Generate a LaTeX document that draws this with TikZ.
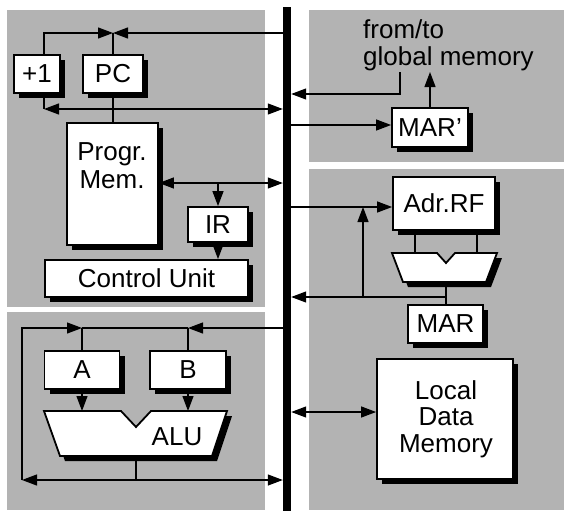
\documentclass[tikz,border=0pt]{standalone}
\usepackage{fontspec}
\setmainfont{Liberation Sans}
\usetikzlibrary{arrows.meta}
\definecolor{panelgray}{RGB}{179,179,179}
\pgfdeclarelayer{bg}
\pgfdeclarelayer{wires}
\pgfsetlayers{bg,wires,main}
\newcommand\mkbox[6]{%
  \node[fill=black,inner sep=0pt,minimum width=#4pt,minimum height=#5pt] at ({#2+5},{#3+5}) {};
  \node[regbox,minimum width=#4pt,minimum height=#5pt] (#1) at (#2,#3) {#6};}
\begin{document}
\begin{tikzpicture}[x=1pt,y=-1pt,
  font=\fontsize{26}{28}\selectfont,
  wire/.style={line width=1.2pt},
  >={Triangle[length=15pt,width=11pt]},
  regbox/.style={draw,line width=1.8pt,fill=white,inner sep=0pt},
  shapeline/.style={draw,line width=1.8pt,fill=white},
  txt/.style={inner sep=0pt}
]
\useasboundingbox (0,0) rectangle (564,511);
\begin{pgfonlayer}{bg}
% panels
\fill[panelgray] (7,10) rectangle (265,307);
\fill[panelgray] (7,312) rectangle (265,510);
\fill[panelgray] (309,10) rectangle (564,162);
\fill[panelgray] (309,169) rectangle (564,510);
% bus
\node[fill=black,inner sep=0pt,minimum width=8pt,minimum height=504pt] (bus) at (287,259) {};
\end{pgfonlayer}
% coordinates
\coordinate (jpc) at (113,33);
\coordinate (j2) at (44,109);
\coordinate (j3) at (218,183);
\coordinate (gm1) at (400,72);
\coordinate (gm2) at (400,94);
\coordinate (gm3) at (430,72);
\coordinate (jq) at (340,125);
\coordinate (ja) at (363,207);
\coordinate (jv) at (363,297);
\coordinate (mi1) at (415,253);
\coordinate (mi2) at (477,253);
\coordinate (mo) at (446,282);
\coordinate (jm) at (446,297);
\coordinate (ja1) at (82,328);
\coordinate (jb1) at (188,328);
\coordinate (alua) at (82,411);
\coordinate (alub) at (188,411);
\coordinate (aluo) at (136,456);
\coordinate (jl1) at (22,480);
\coordinate (jld) at (340,412);
% boxes with shadows
\mkbox{plus1}{37}{74}{46}{38}{+1}
\mkbox{pc}{113}{74}{60}{38}{PC}
\mkbox{pm}{112.5}{184}{91}{122}{}
\node[txt,anchor=base,align=center] (pmtext) at (112,188) {Progr.\\Mem.};
\mkbox{ir}{218}{224.5}{60}{35}{IR}
\mkbox{cu}{146.5}{278.5}{203}{37}{Control Unit}
\node[txt,anchor=base west,align=left] (gmtext) at (363,66) {from/to\\global memory};
\mkbox{marp}{430}{127.5}{76}{39}{MAR’}
\mkbox{adrrf}{444}{203.5}{102}{53}{Adr.RF}
\mkbox{mar}{445.5}{324}{75}{38}{MAR}
\mkbox{ldm}{445}{419}{136}{120}{}
\node[txt,anchor=base,align=center,font=\fontsize{26}{26.5}\selectfont] (ldmtext) at (446,452) {Local\\Data\\Memory};
\mkbox{rega}{82}{370}{75}{38}{A}
\mkbox{regb}{188}{370}{76}{38}{B}
% ALU
\fill[black] (49,416) -- (126,416) -- (141,432) -- (156,416) -- (232,416) -- (217,461) -- (65,461) -- cycle;
\path[shapeline] (44,411) -- (121,411) -- (136,427) -- (151,411) -- (227,411) -- (212,456) -- (60,456) -- cycle;
\node[txt,anchor=base] (alutext) at (177,445) {ALU};
% address mux
\fill[black] (397,258) -- (442,258) -- (451,268) -- (460,258) -- (502,258) -- (491,287) -- (408,287) -- cycle;
\path[shapeline] (392,253) -- (437,253) -- (446,263) -- (455,253) -- (497,253) -- (486,282) -- (403,282) -- cycle;
% wires
\begin{pgfonlayer}{wires}
\draw[wire,->] ([xshift=7pt]plus1.north) |- (jpc);
\draw[wire,->] (bus.west |- jpc) -- (jpc);
\draw[wire] (pc.north) -- (jpc);
\draw[wire] ([xshift=7pt]plus1.south) -- (j2);
\draw[wire,<->] (j2) -- (bus.west |- j2);
\draw[wire] (pc.south) -- (pc.south |- pm.north);
\draw[wire,<->] (pm.east |- j3) -- (bus.west |- j3);
\draw[wire,->] (j3) -- (ir.north);
\draw[wire,->] (ir.south) -- (ir.south |- cu.north);
\draw[wire,->] (gm1) -- (gm2) -- (bus.east |- gm2);
\draw[wire,->] (marp.north) -- (gm3);
\draw[wire,->] (bus.east |- jq) -- (marp.west |- jq);
\draw[wire,->] (bus.east |- ja) -- (adrrf.west |- ja);
\draw[wire,->] (jv) -- (ja);
\draw[wire] (adrrf.south -| mi1) -- (mi1);
\draw[wire] (adrrf.south -| mi2) -- (mi2);
\draw[wire] (mo) -- (mo |- mar.north);
\draw[wire,->] (jm) -- (bus.east |- jm);
\draw[wire,<->] (bus.east |- jld) -- (ldm.west |- jld);
\draw[wire,->] (jl1) |- (ja1);
\draw[wire] (ja1) -- (jb1);
\draw[wire,->] (bus.west |- jb1) -- (jb1);
\draw[wire] (ja1) -- (rega.north);
\draw[wire] (jb1) -- (regb.north);
\draw[wire,->] (rega.south) -- (alua);
\draw[wire,->] (regb.south) -- (alub);
\draw[wire] (aluo) -- (aluo |- jl1);
\draw[wire,<->] (jl1) -- (bus.west |- jl1);
\end{pgfonlayer}
\end{tikzpicture}
\end{document}
